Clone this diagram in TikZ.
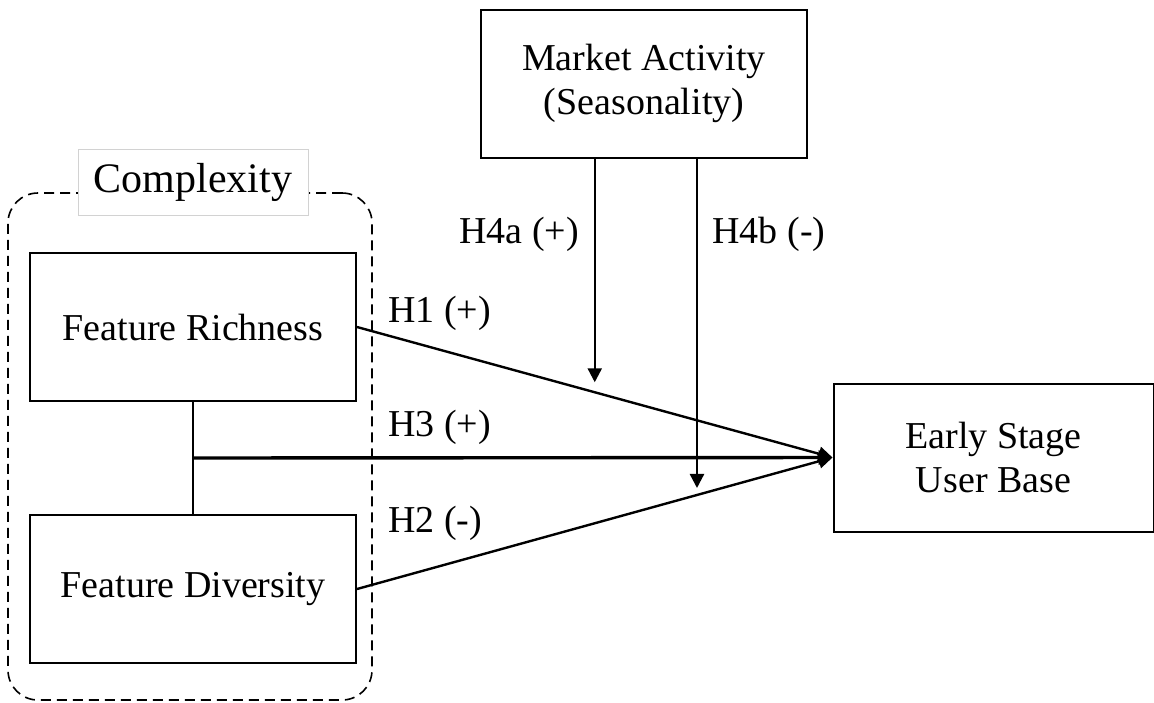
\documentclass[tikz,border=0pt]{standalone}
\usepackage{fontspec}
\setmainfont{Liberation Serif}
\usetikzlibrary{calc,positioning,fit,arrows.meta}

\tikzset{
  box/.style={rectangle,draw,line width=1pt,minimum width=163pt,minimum height=74pt,align=center},
  hyp/.style={inner sep=0pt,anchor=base west},
  link/.style={line width=1.2pt,-{Triangle[length=7pt,width=7pt]}}
}

\begin{document}
\begin{tikzpicture}[x=0.5pt,y=-0.5pt,font=\fontsize{19}{22}\selectfont]
\useasboundingbox (0,0) rectangle (1154,702);

\node (rich) [box] at (193,327) {Feature Richness};
\node (div) [box,below=56pt of rich] {Feature Diversity};
\node (market) [box] at (644,83.5) {Market Activity\\(Seasonality)};
\node (early) [box,minimum width=160pt] at (993.5,457.5) {Early Stage\\User Base};

\node (group) [draw,line width=0.8pt,dash pattern=on 5pt off 3pt,rounded corners=15pt,
  inner sep=0pt,fit={(8,193) (372,700)}] {};
\node (cplx) [draw=gray!35,fill=white,inner sep=0pt,minimum width=115pt,minimum height=33pt,
  font=\fontsize{21}{24}\selectfont] at (193,182) {Complexity};

\draw [line width=1.1pt] (rich) -- (div);
\coordinate (join) at ($(rich.south)!0.5!(div.north)$);
\draw [link,line width=1.7pt] (join) -- (early.west);
\draw [link] (rich.east) -- (early.west);
\draw [link] (div.east) -- (early.west);

\coordinate (toH1) at ($(rich.east)!0.5!(early.west)+(0,-10)$);
\coordinate (toH2) at ($(div.east)!0.715!(early.west)+(0,-7)$);
\draw [link] (market.south -| toH1) -- (toH1);
\draw [link] (market.south -| toH2) -- (toH2);

\node (h1) [hyp] at (388,322) {H1 (+)};
\node (h3) [hyp] at (388,436) {H3 (+)};
\node (h2) [hyp] at (388,532) {H2 (-)};
\node (h4a) [hyp] at (459,243) {H4a (+)};
\node (h4b) [hyp] at (712,243) {H4b (-)};
\end{tikzpicture}
\end{document}
